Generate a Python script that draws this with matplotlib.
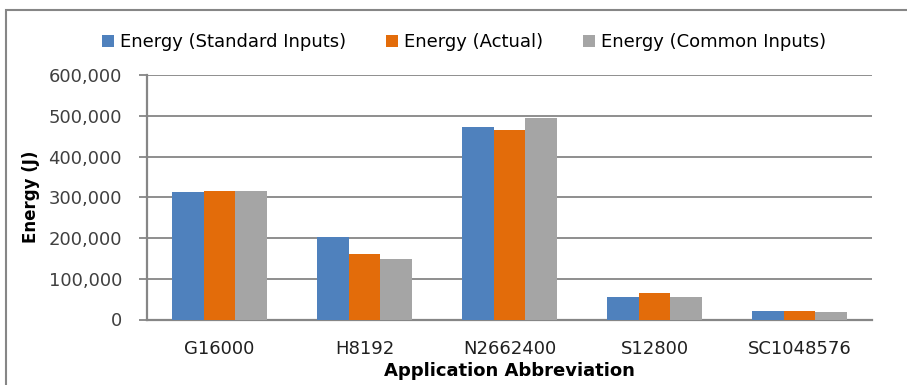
import matplotlib
matplotlib.use("Agg")
import matplotlib.pyplot as plt
from matplotlib.patches import Rectangle
from matplotlib.ticker import FuncFormatter
import numpy as n

# energy per application, three input settings
apps = ["G16000", "H8192", "N2662400", "S12800", "SC1048576"]
series_names = ["Energy (Standard Inputs)", "Energy (Actual)", "Energy (Common Inputs)"]
e_standard = [312000, 202000, 472000, 56000, 22000]
e_actual = [316000, 161000, 465000, 64000, 22000]
e_common = [316000, 148000, 495000, 56000, 19000]
colors = ["#4F81BD", "#E36C0A", "#A5A5A5"]
yticks = [0, 100000, 200000, 300000, 400000, 500000, 600000]

plt.rcParams["font.family"] = "DejaVu Sans"

W, H = 907, 385
fig = plt.figure(figsize=(W/100.0, H/100.0), dpi=100)
ax = fig.add_axes([147.0/W, 1-319.5/H, (872.0-147.0)/W, (319.5-75.0)/H])

# outer chart frame
fig.patches.append(Rectangle((6.0/W, -0.2), 1.2, 1.2-10.0/H, transform=fig.transFigure,
                             fill=False, edgecolor="#868686", linewidth=1.5))

x = n.arange(len(apps))
bw = 0.22
for i, (vals, name) in enumerate(zip([e_standard, e_actual, e_common], series_names)):
    ax.bar(x + (i-1)*bw, vals, bw, color=colors[i], label=name, zorder=3)

ax.set_ylim(0, 600000)
ax.set_xlim(-0.5, len(apps)-0.5)
ax.set_yticks(yticks)
ax.yaxis.set_major_formatter(FuncFormatter(lambda v, p: "{:,.0f}".format(v)))
ax.set_xticks(x)
ax.set_xticklabels(apps)
ax.grid(axis="y", color="#868686", linewidth=1.3, zorder=0)
ax.tick_params(axis="y", length=6, width=1.3, color="#868686", labelsize=13, pad=12, labelcolor="#404040")
ax.tick_params(axis="x", length=0, labelsize=13, pad=15, labelcolor="#202020")
for s in ["top", "right"]:
    ax.spines[s].set_visible(False)
for s in ["left", "bottom"]:
    ax.spines[s].set_color("#868686")
    ax.spines[s].set_linewidth(1.6)

ax.set_ylabel("Energy (J)", fontsize=12, fontweight="bold", labelpad=6)
ax.set_xlabel("Application Abbreviation", fontsize=13, fontweight="bold", labelpad=3)

fig.legend(loc="center", bbox_to_anchor=(464.0/W, 1-42.0/H), ncol=3, frameon=False,
           fontsize=13, handlelength=0.65, handleheight=0.65, handletextpad=0.35,
           columnspacing=2.2)

fig.savefig("out.png", dpi=100)
